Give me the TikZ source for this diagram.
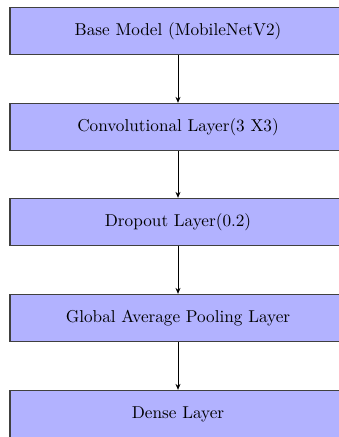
\documentclass[tikz,border=0pt]{standalone}
\usepackage{graphicx}
\usetikzlibrary{arrows.meta}
\newcommand{\lyrtxt}[1]{\scalebox{1.72}{#1}}
\begin{document}
\begin{tikzpicture}[x=1pt,y=-1pt,
  layerbox/.style={draw=black!75, line width=1.3pt, fill=blue!30, minimum width=336pt, minimum height=47pt, inner sep=0pt, font=\fontsize{10}{12}\selectfont},
  flow/.style={-{Stealth[length=6pt,width=5pt]}, line width=1pt, black}]
\useasboundingbox (0,0) rectangle (338,437);
\node[layerbox] (b1) at (178,31) {\lyrtxt{Base Model (MobileNetV2)}};
\node[layerbox] (b2) at (178,127) {\lyrtxt{Convolutional Layer(3 X3)}};
\node[layerbox] (b3) at (178,222) {\lyrtxt{Dropout Layer(0.2)}};
\node[layerbox] (b4) at (178,318) {\lyrtxt{Global Average Pooling Layer}};
\node[layerbox] (b5) at (178,414) {\lyrtxt{Dense Layer}};
\draw[flow] (b1) -- (b2);
\draw[flow] (b2) -- (b3);
\draw[flow] (b3) -- (b4);
\draw[flow] (b4) -- (b5);
\end{tikzpicture}
\end{document}
